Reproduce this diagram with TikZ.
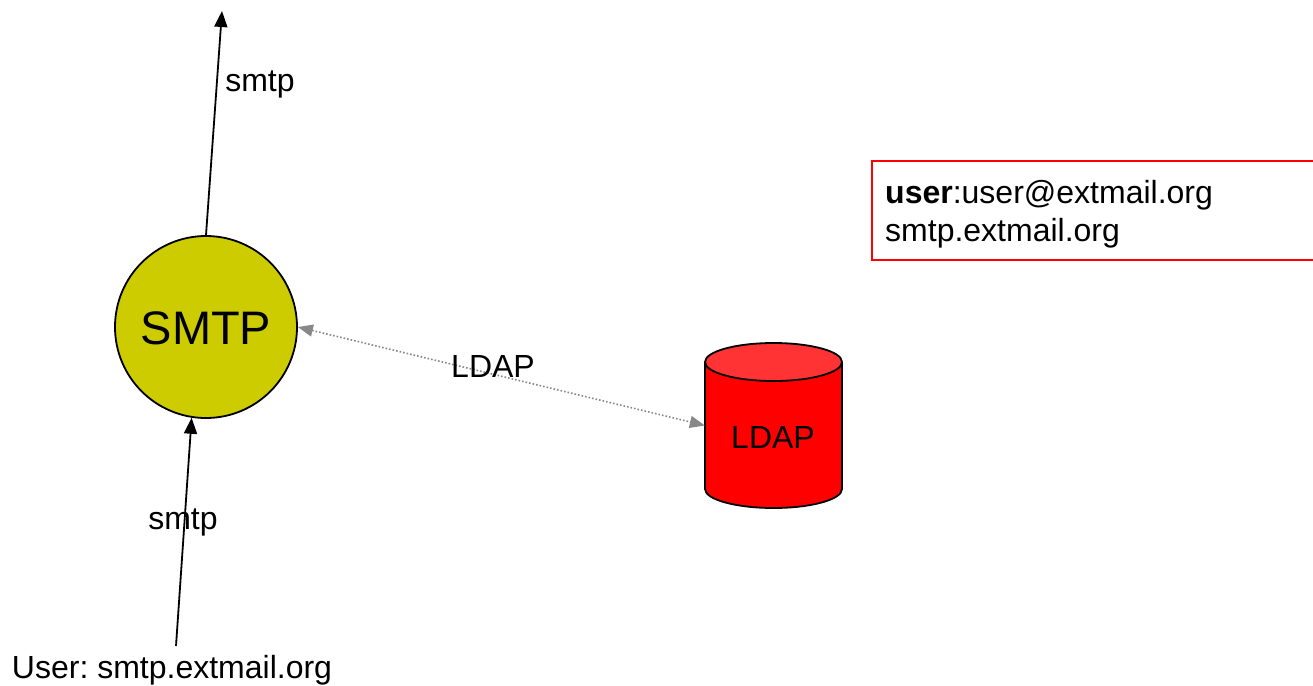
\documentclass[tikz,border=0pt]{standalone}
\usepackage{fontspec}
\setmainfont{Liberation Sans}
\usetikzlibrary{arrows.meta}
\definecolor{smtpfill}{HTML}{CCCC00}
\definecolor{cyltop}{HTML}{FF3333}
\definecolor{cylbody}{HTML}{FF0000}
\definecolor{dotgray}{HTML}{888888}
\frenchspacing
\tikzset{
  lbl/.style={font=\fontsize{32}{36}\selectfont, inner sep=0pt, anchor=base},
  blackarrow/.style={line width=1.8pt, -{Triangle[length=16pt,width=13pt]}},
  grayarrow/.style={dotgray, line width=1.6pt, dotted, {Triangle[length=15pt,width=12pt]}-{Triangle[length=15pt,width=12pt]}},
}
\begin{document}
\begin{tikzpicture}[x=1pt,y=-1pt]
\useasboundingbox (0,0) rectangle (1313,685);
\clip (0,0) rectangle (1313,685);
% SMTP circle
\node (smtp) [circle, draw, line width=1.8pt, fill=smtpfill, minimum size=182pt, inner sep=0pt] at (206,327) {};
\node (smtptxt) [font=\fontsize{47}{50}\selectfont, inner sep=0pt, anchor=base] at (206,344) {SMTP};
% LDAP cylinder
\fill[cylbody] (705,362) -- (705,489) arc[start angle=180,end angle=0,x radius=68.5,y radius=19] -- (842,362) -- cycle;
\draw[line width=1.8pt] (705,362) -- (705,489) arc[start angle=180,end angle=0,x radius=68.5,y radius=19] -- (842,362);
\draw[line width=1.8pt, fill=cyltop] (773.5,362) ellipse[x radius=68.5, y radius=19];
\node (ldap) [minimum width=137pt, minimum height=165pt, inner sep=0pt] at (773.5,425.5) {};
\node (ldaptxt) [lbl] at (773,448) {LDAP};
% connectors
\coordinate (topend) at (222,11);
\coordinate (userpt) at (176,646);
\draw[blackarrow] (smtp.north) -- (topend);
\draw[blackarrow] (userpt) -- (smtp.-99.5);
\draw[grayarrow] (smtp.east) -- (ldap.west);
% labels
\node (smtptop) [lbl] at (260,91) {smtp};
\node (smtpbot) [lbl] at (183,529) {smtp};
\node (ldaplbl) [lbl] at (493,377) {LDAP};
\node (user) [lbl] at (172,678) {User: smtp.extmail.org};
% info box
\node (infobox) [draw=red, line width=1.8pt, anchor=north west, minimum width=460pt, minimum height=99pt, inner sep=0pt] at (871,160) {};
\node (info1) [lbl, anchor=base west] at (885,203) {\textbf{user}:user@extmail.org};
\node (info2) [lbl, anchor=base west] at (885,241) {smtp.extmail.org};
\end{tikzpicture}
\end{document}
